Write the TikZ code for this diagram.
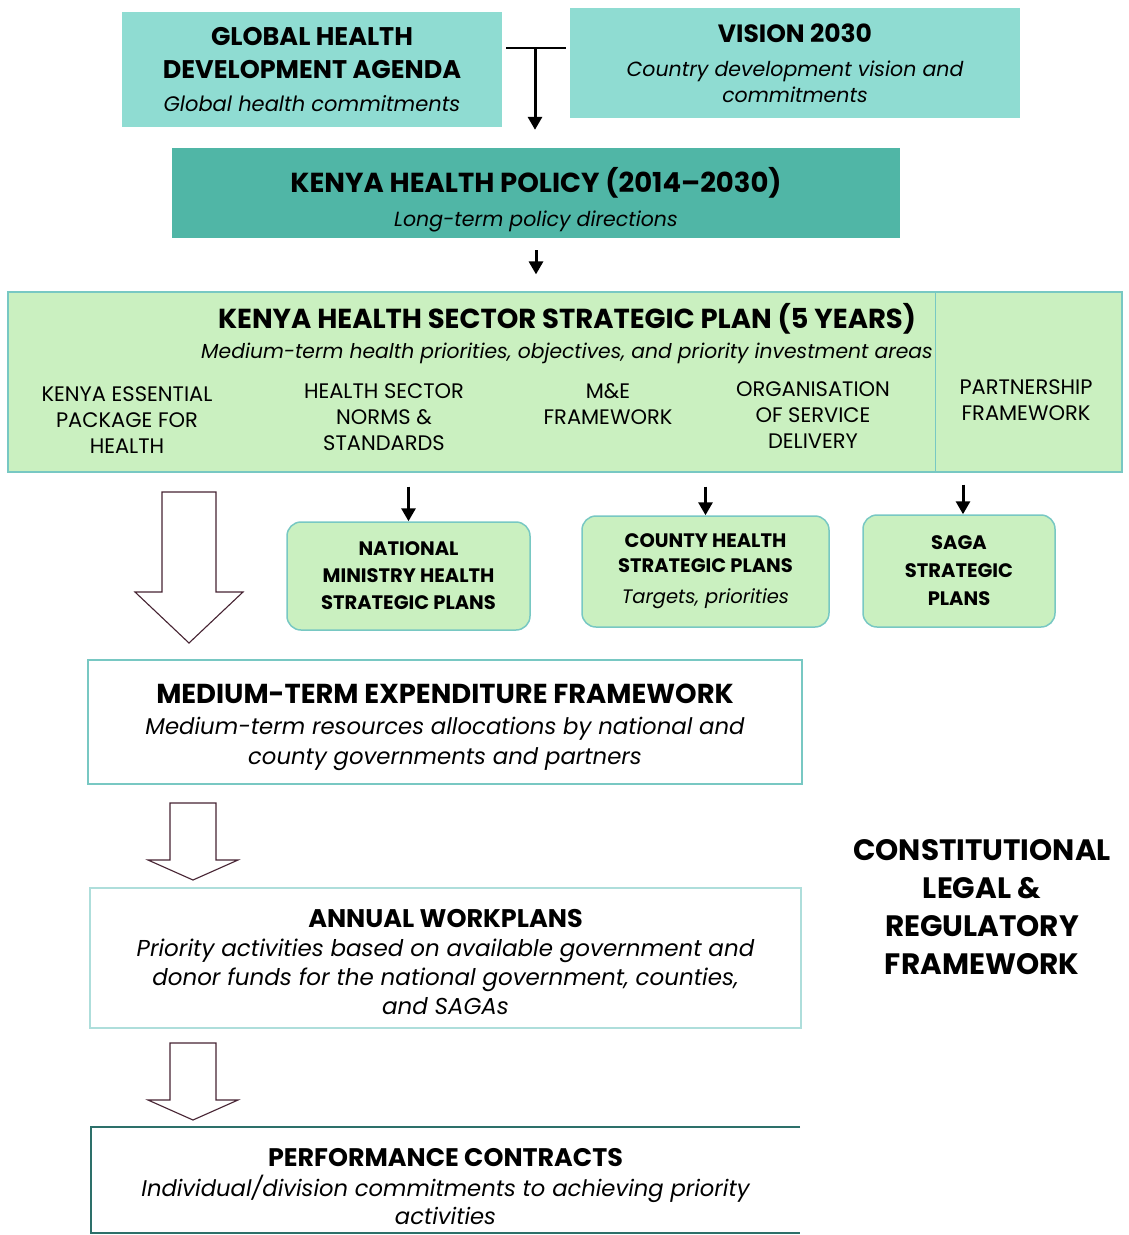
\documentclass[tikz,border=0pt]{standalone}
\usepackage{fontspec}
\setmainfont{Poppins}
\usepackage{tikz}
\usetikzlibrary{arrows.meta,positioning}
\usepackage{xcolor}
\definecolor{khteal}{RGB}{143,220,210}
\definecolor{khdark}{RGB}{80,182,166}
\definecolor{khgreen}{RGB}{202,240,192}
\definecolor{khedge}{RGB}{120,200,195}
\definecolor{khperf}{RGB}{45,112,106}
\definecolor{khline}{RGB}{70,35,50}
\newcommand{\hdfont}[1]{\fontsize{#1}{30}\selectfont\bfseries\upshape}
\newcommand{\itfont}[1]{\fontsize{#1}{28}\selectfont\mdseries\itshape}
\tikzstyle{arrow} = [line width=3pt,-{Triangle[length=13pt,width=14pt]}]
\tikzstyle{plain} = [line width=2pt]
\tikzstyle{topbox} = [rectangle, fill=khteal, align=center, inner sep=0pt]
\tikzstyle{greenbox} = [rectangle, fill=khgreen, draw=khedge, line width=1.2pt, inner sep=0pt]
\tikzstyle{roundbox} = [rectangle, rounded corners=14pt, fill=khgreen, draw=khedge, line width=1.5pt, align=center, inner sep=0pt]
\tikzstyle{whitebox} = [rectangle, fill=white, draw=khedge, line width=1.2pt, align=center, inner sep=0pt]
\tikzstyle{item} = [align=center, font=\fontsize{21}{26}\selectfont]
\tikzstyle{hollow} = [draw=khline, line width=1.1pt, fill=white, line join=miter]

\begin{document}
\begin{tikzpicture}[x=1pt, y=-1pt]
\useasboundingbox (0,0) rectangle (1129,1235);
% Top level directions
\node (global) [topbox, minimum width=380pt, minimum height=115pt, font=\fontsize{25.5}{33}\selectfont\bfseries] at (312,69.5) {GLOBAL HEALTH\\DEVELOPMENT AGENDA\\\itfont{21}Global health commitments};
\node (vision) [topbox, minimum width=450pt, minimum height=110pt, font=\fontsize{20.5}{26}\selectfont\itshape] at (795,63) {\hdfont{25}VISION 2030\\[8pt]Country development vision and\\commitments};
\node (policy) [topbox, fill=khdark, minimum width=728pt, minimum height=90pt, font=\fontsize{27.5}{34}\selectfont\bfseries] at (536,193) {\rule{0pt}{39pt}KENYA HEALTH POLICY (2014–2030)\\\itfont{20.5}Long-term policy directions};
\coordinate (tj) at (535,48);
\draw[plain] ([xshift=4pt]global.east |- tj) -- ([xshift=-4pt]vision.west |- tj);
\draw[arrow] (tj) -- ([yshift=18pt]policy.north -| tj);

% Strategic plan
\node (plan) [greenbox, minimum width=1114pt, minimum height=180pt] at (565,382) {};
\draw[khedge, line width=1pt] ([xshift=-187pt]plan.north east) -- ([xshift=-187pt]plan.south east);
\node (plantitle) [align=center, font=\fontsize{27.5}{30}\selectfont\bfseries] at (567,334) {KENYA HEALTH SECTOR STRATEGIC PLAN (5 YEARS)\\\itfont{20.3}Medium-term health priorities, objectives, and priority investment areas};
\node (kephs) [item] at (127,420) {KENYA ESSENTIAL\\PACKAGE FOR\\HEALTH};
\node (norms) [item] at (384,417) {HEALTH SECTOR\\NORMS \&\\STANDARDS};
\node (mande) [item] at (608,404) {M\&E\\FRAMEWORK};
\node (orgsvc) [item] at (813,415) {ORGANISATION\\OF SERVICE\\DELIVERY};
\node (partner) [item] at (1026,400) {PARTNERSHIP\\FRAMEWORK};
\draw[arrow] ([yshift=-12pt]policy.south) -- ([yshift=17pt]policy.south |- plan.north);

% Strategic plans by level
\node (natplan) [roundbox, minimum width=243pt, minimum height=108pt, font=\fontsize{19.5}{27}\selectfont\bfseries] at (408.5,576) {NATIONAL\\MINISTRY HEALTH\\STRATEGIC PLANS};
\node (cntplan) [roundbox, minimum width=247pt, minimum height=111pt, font=\fontsize{19.5}{25}\selectfont\bfseries] at (705.5,571.5) {COUNTY HEALTH\\STRATEGIC PLANS\\[6pt]\itfont{19.5}Targets, priorities};
\node (sagaplan) [roundbox, minimum width=192pt, minimum height=112pt, font=\fontsize{19.5}{28}\selectfont\bfseries] at (959,571) {SAGA\\STRATEGIC\\PLANS};
\draw[arrow] ([yshift=-14pt]natplan.north |- plan.south) -- (natplan.north);
\draw[arrow] ([yshift=-14pt]cntplan.north |- plan.south) -- (cntplan.north);
\draw[arrow] ([shift={(4pt,-12pt)}]sagaplan.north |- plan.south) -- ([xshift=4pt]sagaplan.north);

% Budget and operational plans
\node (mtef) [whitebox, minimum width=714pt, minimum height=124pt, font=\fontsize{22.8}{30}\selectfont\itshape] at (445,722) {\rule{0pt}{30pt}\hdfont{27.4}MEDIUM-TERM EXPENDITURE FRAMEWORK\\[1pt]Medium-term resources allocations by national and\\county governments and partners};
\node (annual) [whitebox, draw=khedge!60, minimum width=711pt, minimum height=140pt, font=\fontsize{23}{29}\selectfont\itshape] at (445.5,958) {\rule{0pt}{26pt}\hdfont{25.5}ANNUAL WORKPLANS\\Priority activities based on available government and\\donor funds for the national government, counties,\\and SAGAs};
\node (perf) [rectangle, minimum width=709pt, minimum height=106pt, align=center, inner sep=0pt, font=\fontsize{22.7}{28}\selectfont\itshape] at (445.5,1180) {\rule{0pt}{32pt}\hdfont{25.4}PERFORMANCE CONTRACTS\\[2pt]Individual/division commitments to achieving priority\\activities};
\draw[khperf, line width=2pt] (perf.north east) -- (perf.north west) -- (perf.south west) -- (perf.south east);

\draw[hollow] (162,492) -- (216,492) -- (216,592) -- (243,592) -- (189,643) -- (135,592) -- (162,592) -- cycle;
\foreach \y in {803,1043}
  \draw[hollow] (170,\y) -- (216,\y) -- (216,\y+57) -- (238,\y+57) -- (193,\y+77) -- (148,\y+57) -- (170,\y+57) -- cycle;

\node (legal) [align=center, font=\fontsize{29.5}{38}\selectfont\bfseries] at (982,907) {CONSTITUTIONAL\\LEGAL \&\\REGULATORY\\FRAMEWORK};
\end{tikzpicture}
\end{document}
